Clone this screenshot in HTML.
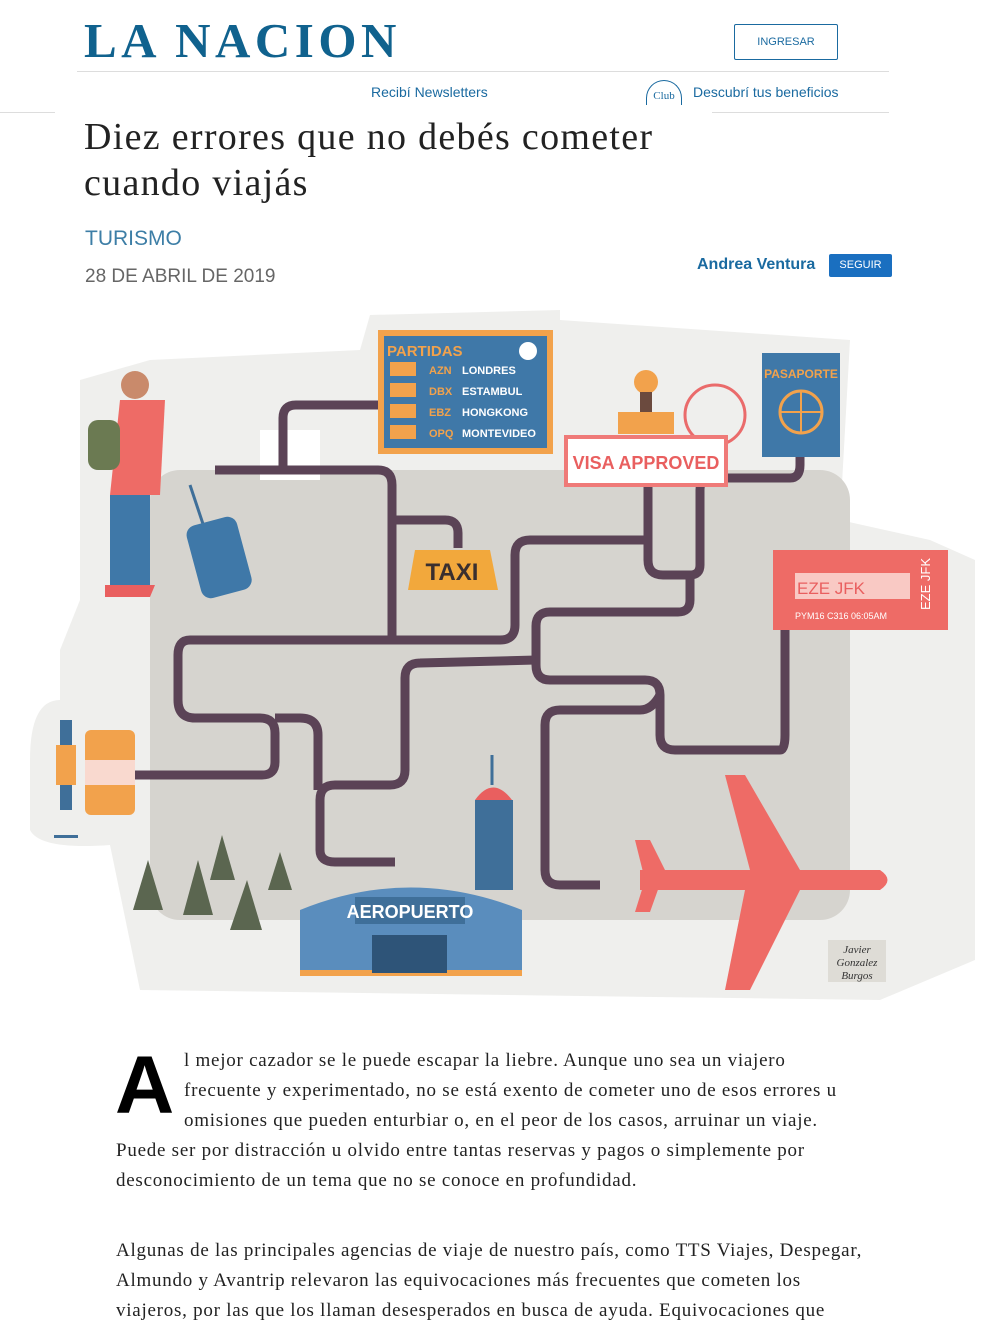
<!DOCTYPE html>
<html><head><meta charset="utf-8"><style>
body{margin:0;width:983px;height:1323px;position:relative;background:#fff;overflow:hidden;font-family:"Liberation Sans",sans-serif}
.a{position:absolute;white-space:nowrap}
.p{position:absolute;white-space:nowrap;font-family:"Liberation Serif",serif;font-size:19px;letter-spacing:0.75px;color:#222;left:116px}
</style></head><body>
<div class="a" style="left:84px;top:12px;font-family:'Liberation Serif',serif;font-weight:bold;font-size:49px;color:#10628e;letter-spacing:4.5px">LA NACION</div>
<div class="a" style="left:734px;top:24px;width:102px;height:34px;border:1px solid #1a6aa0;border-radius:2px;font-size:11px;color:#1a6aa0;text-align:center;line-height:34px">INGRESAR</div>
<div class="a" style="left:77px;top:71px;width:812px;height:1px;background:#ddd"></div>
<div class="a" style="left:371px;top:84px;font-size:14px;color:#1a6aa0">Recibí Newsletters</div>
<div class="a" style="left:646px;top:80px;width:34px;height:24px;border:1.5px solid #1a6aa0;border-bottom:none;border-radius:20px 20px 0 0;font-size:11px;color:#1a6aa0;text-align:center;line-height:30px;font-family:'Liberation Serif',serif">Club</div>
<div class="a" style="left:693px;top:84px;font-size:14px;color:#1a6aa0">Descubrí tus beneficios</div>
<div class="a" style="left:0;top:112px;width:55px;height:1px;background:#ddd"></div>
<div class="a" style="left:712px;top:112px;width:177px;height:1px;background:#ddd"></div>
<div class="a" style="left:84px;top:114px;font-family:'Liberation Serif',serif;font-size:38px;letter-spacing:1.3px;color:#222;line-height:46px">Diez errores que no debés cometer<br>cuando viajás</div>
<div class="a" style="left:85px;top:227px;font-size:21px;color:#3d7ea6">TURISMO</div>
<div class="a" style="left:85px;top:266px;font-size:19px;color:#666">28 DE ABRIL DE 2019</div>
<div class="a" style="left:697px;top:256px;font-size:16px;font-weight:bold;color:#1a6aa0">Andrea Ventura</div>
<div class="a" style="left:829px;top:254px;width:63px;height:23px;background:#1a6fc0;border-radius:2px;color:#fff;font-size:11px;text-align:center;line-height:23px">SEGUIR</div>

<svg class="a" style="left:0;top:300px" width="983" height="720" viewBox="0 300 983 720">
<path d="M60 700 Q30 700 30 760 L30 830 Q40 850 110 845 L140 990 L880 1000 L975 960 L975 560 L930 540 L840 520 L850 340 L560 320 L560 310 L370 315 L360 350 L150 360 L80 380 L80 600 L60 650Z" fill="#efefed"/>
<rect x="150" y="470" width="700" height="450" rx="30" fill="#d6d4cf"/>
<rect x="260" y="430" width="60" height="50" fill="#fff"/>
<g fill="none" stroke="#5b4356" stroke-width="9" stroke-linecap="butt" stroke-linejoin="round">
<path d="M215 470 L378 470 Q392 470 392 485 L392 640"/>
<path d="M283 470 L283 418 Q283 405 296 405 L378 405"/>
<path d="M392 520 L445 520 Q458 520 458 533 L458 548"/>
<path d="M190 640 L500 640 Q515 640 515 625 L515 555 Q515 540 530 540 L648 540"/>
<path d="M648 485 L648 560 Q648 575 663 575 L690 575 Q700 575 700 565 L700 490 Q700 478 712 478 L790 478 Q800 478 800 465 L800 455"/>
<path d="M690 575 L690 600 Q690 612 678 612 L550 612 Q536 612 536 626 L536 665 Q536 680 550 680 L645 680 Q660 680 660 695 L660 735 Q660 750 675 750 L780 750 Q785 750 785 735 L785 630"/>
<path d="M536 660 L420 663 Q405 663 405 678 L405 770 Q405 785 390 785 L335 785 Q320 785 320 800 L320 850 Q320 862 335 862 L395 862"/>
<path d="M190 640 Q178 640 178 655 L178 700 Q178 718 195 718 L260 718 Q275 718 275 733 L275 762 Q275 775 262 775 L135 775"/>
<path d="M275 718 L300 718 Q318 718 318 735 L318 790"/>
<path d="M660 695 Q652 710 640 710 L560 710 Q545 710 545 725 L545 870 Q545 885 560 885 L600 885"/>
</g>
<rect x="378" y="330" width="175" height="124" fill="#f2a24c"/>
<rect x="384" y="336" width="163" height="112" fill="#3f78a8"/>
<text x="387" y="356" font-family="Liberation Sans" font-size="15" font-weight="bold" fill="#f2a24c">PARTIDAS</text>
<circle cx="528" cy="351" r="9" fill="#fff"/>
<g font-family="Liberation Sans" font-size="11" font-weight="bold">
<rect x="390" y="362" width="26" height="14" fill="#f2a24c"/><text x="429" y="374" fill="#f2a24c">AZN</text><text x="462" y="374" fill="#fff">LONDRES</text>
<rect x="390" y="383" width="26" height="14" fill="#f2a24c"/><text x="429" y="395" fill="#f2a24c">DBX</text><text x="462" y="395" fill="#fff">ESTAMBUL</text>
<rect x="390" y="404" width="26" height="14" fill="#f2a24c"/><text x="429" y="416" fill="#f2a24c">EBZ</text><text x="462" y="416" fill="#fff">HONGKONG</text>
<rect x="390" y="425" width="26" height="14" fill="#f2a24c"/><text x="429" y="437" fill="#f2a24c">OPQ</text><text x="462" y="437" fill="#fff">MONTEVIDEO</text>
</g>
<circle cx="646" cy="382" r="12" fill="#f2a24c"/><rect x="640" y="392" width="12" height="20" fill="#6b4a3e"/><rect x="618" y="412" width="56" height="22" fill="#f2a24c"/>
<circle cx="715" cy="415" r="30" fill="none" stroke="#ea6b6b" stroke-width="3"/>
<rect x="566" y="437" width="160" height="48" fill="#fff" stroke="#ef7a78" stroke-width="4"/>
<text x="646" y="469" text-anchor="middle" font-family="Liberation Sans" font-size="18" font-weight="bold" fill="#e95f5f">VISA APPROVED</text>
<rect x="762" y="353" width="78" height="104" fill="#3f78a8"/>
<text x="801" y="378" text-anchor="middle" font-family="Liberation Sans" font-size="12" font-weight="bold" fill="#f2a24c">PASAPORTE</text>
<circle cx="801" cy="412" r="21" fill="none" stroke="#f2a24c" stroke-width="3"/>
<path d="M780 412 H822 M801 391 V433" stroke="#f2a24c" stroke-width="2"/>
<rect x="773" y="550" width="175" height="80" fill="#ee6b66"/>
<rect x="795" y="573" width="115" height="26" fill="#f9c9c4"/>
<text x="797" y="594" font-family="Liberation Sans" font-size="17" fill="#e95f5f">EZE  JFK</text>
<text x="795" y="619" font-family="Liberation Sans" font-size="9" fill="#fff">PYM16   C316   06:05AM</text>
<text x="930" y="610" font-family="Liberation Sans" font-size="13" fill="#fff" transform="rotate(-90 930 610)">EZE  JFK</text>
<path d="M415 550 L490 550 L498 590 L408 590Z" fill="#f2a83c"/>
<text x="452" y="580" text-anchor="middle" font-family="Liberation Sans" font-size="24" font-weight="bold" fill="#3a2f2f">TAXI</text>
<path d="M300 910 Q410 865 522 910 L522 975 L300 975Z" fill="#5a8dbd"/>
<rect x="300" y="970" width="222" height="6" fill="#f2a24c"/>
<rect x="355" y="897" width="110" height="27" fill="#3f6f99"/>
<text x="410" y="918" text-anchor="middle" font-family="Liberation Sans" font-size="18" font-weight="bold" fill="#fff">AEROPUERTO</text>
<rect x="372" y="935" width="75" height="38" fill="#2e5478"/>
<rect x="475" y="800" width="38" height="90" fill="#3f6f99"/>
<path d="M475 800 Q493 775 512 800Z" fill="#e95f5f"/>
<line x1="492" y1="755" x2="492" y2="785" stroke="#3f6f99" stroke-width="3"/>
<g fill="#ee6b66">
<path d="M640 870 L880 870 Q895 880 880 890 L640 890 Z"/>
<path d="M725 775 L745 775 L800 870 L750 870Z"/>
<path d="M745 890 L800 890 L750 990 L725 990Z"/>
<path d="M635 840 L650 840 L665 870 L650 912 L635 912 L645 880Z"/>
</g>
<g fill="#5b6650">
<path d="M148 860 L133 910 L163 910Z"/><path d="M198 860 L183 915 L213 915Z"/><path d="M222 835 L210 880 L235 880Z"/><path d="M247 880 L230 930 L262 930Z"/><path d="M280 852 L268 890 L292 890Z"/>
</g>
<rect x="60" y="720" width="12" height="90" fill="#3f6f99"/><rect x="56" y="745" width="20" height="40" fill="#f2a24c"/><rect x="54" y="835" width="24" height="3" fill="#3f6f99"/>
<rect x="85" y="730" width="50" height="85" rx="6" fill="#f2a24c"/><rect x="85" y="760" width="50" height="25" fill="#f9d9cf"/>
<circle cx="135" cy="385" r="14" fill="#c98a6b"/><path d="M120 400 L165 400 L160 495 L110 495Z" fill="#ee6b66"/><rect x="88" y="420" width="32" height="50" rx="10" fill="#6b7a52"/>
<rect x="110" y="495" width="40" height="90" fill="#3f78a8"/><path d="M105 585 L155 585 L150 597 L105 597Z" fill="#e95f5f"/>
<line x1="190" y1="485" x2="205" y2="530" stroke="#3f6f99" stroke-width="3"/><rect x="193" y="520" width="52" height="75" rx="10" fill="#3f78a8" transform="rotate(-15 219 557)"/>
<rect x="828" y="940" width="58" height="42" fill="#dedcd6"/>
<text x="857" y="953" text-anchor="middle" font-family="Liberation Serif" font-size="11" font-style="italic" fill="#333">Javier</text>
<text x="857" y="966" text-anchor="middle" font-family="Liberation Serif" font-size="11" font-style="italic" fill="#333">Gonzalez</text>
<text x="857" y="979" text-anchor="middle" font-family="Liberation Serif" font-size="11" font-style="italic" fill="#333">Burgos</text>
</svg>

<div class="a" style="left:115px;top:1036px;font-size:82px;font-weight:bold;color:#000;line-height:100px">A</div>
<div class="p" style="left:184px;top:1050px">l mejor cazador se le puede escapar la liebre. Aunque uno sea un viajero</div>
<div class="p" style="left:184px;top:1080px">frecuente y experimentado, no se está exento de cometer uno de esos errores u</div>
<div class="p" style="left:184px;top:1110px">omisiones que pueden enturbiar o, en el peor de los casos, arruinar un viaje.</div>
<div class="p" style="top:1140px">Puede ser por distracción u olvido entre tantas reservas y pagos o simplemente por</div>
<div class="p" style="top:1170px">desconocimiento de un tema que no se conoce en profundidad.</div>
<div class="p" style="top:1240px">Algunas de las principales agencias de viaje de nuestro país, como TTS Viajes, Despegar,</div>
<div class="p" style="top:1270px">Almundo y Avantrip relevaron las equivocaciones más frecuentes que cometen los</div>
<div class="p" style="top:1300px">viajeros, por las que los llaman desesperados en busca de ayuda. Equivocaciones que</div>
</body></html>
